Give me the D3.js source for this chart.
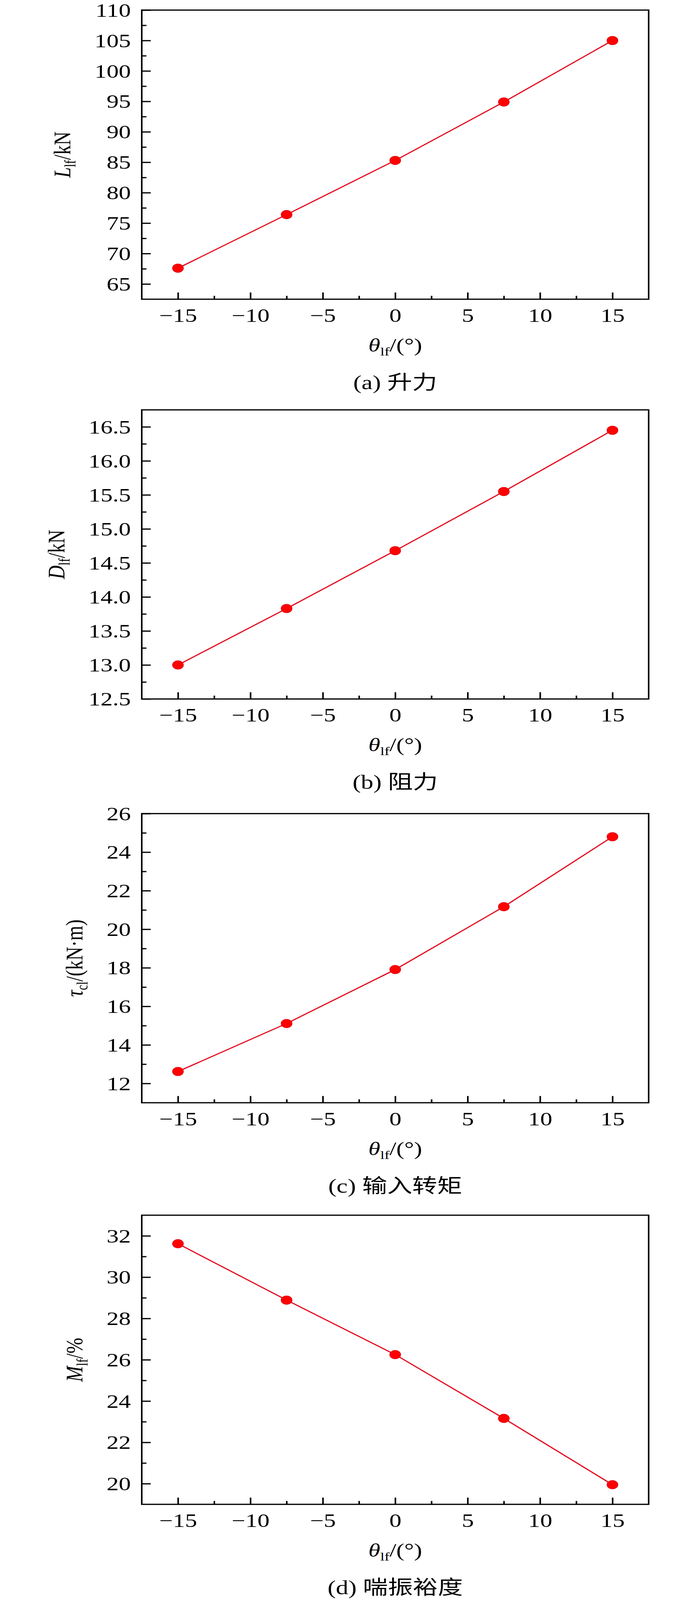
<!DOCTYPE html>
<html>
<head>
<meta charset="utf-8">
<script src="https://cdn.jsdelivr.net/npm/d3@7"></script>
<style>
  html, body { margin: 0; padding: 0; background: #fff; overflow: hidden; }
  #chart svg { display: block; }
  svg text { font-family: "Liberation Serif", "Times New Roman", "Noto Sans CJK SC", serif; fill: #000; }
</style>
</head>
<body>
<div id="chart"></div>
<script>
// angle of the leading-edge flap, shared by all four plots
const angles = [-15, -7.5, 0, 7.5, 15];

// values
const lift   = [67.6, 76.4, 85.3, 94.9, 105.0];
const drag   = [13.00, 13.83, 14.68, 15.55, 16.45];
const torque = [12.62, 15.11, 17.91, 21.17, 24.80];
const surge  = [31.62, 28.89, 26.25, 23.16, 19.95];

// tick labels
const xTicks = [-15, -10, -5, 0, 5, 10, 15];
const xMinor = [-12.5, -7.5, -2.5, 2.5, 7.5, 12.5];
const liftTicks   = [65, 70, 75, 80, 85, 90, 95, 100, 105, 110];
const dragTicks   = [12.5, 13.0, 13.5, 14.0, 14.5, 15.0, 15.5, 16.0, 16.5];
const torqueTicks = [12, 14, 16, 18, 20, 22, 24, 26];
const surgeTicks  = [20, 22, 24, 26, 28, 30, 32];

// captions and axis titles
const captions = ["(a) 升力", "(b) 阻力", "(c) 输入转矩", "(d) 喘振裕度"];
const yTitles = [
  {sym: "L", sub: "lf", unit: "/kN"},
  {sym: "D", sub: "lf", unit: "/kN"},
  {sym: "τ", sub: "cl", unit: "/(kN·m)"},
  {sym: "M", sub: "lf", unit: "/%"}
];

const W = 1772, H = 5235;
const left = 363, right = 1661, plotH = 946;
const tops = [33, 1341, 2662, 3976];
const FS = 62;

const panels = [
  {values: lift,   ticks: liftTicks,   domain: [62.5, 110], step: 5,   fmt: d3.format("d")},
  {values: drag,   ticks: dragTicks,   domain: [12.5, 16.75], step: 0.5, fmt: d3.format(".1f")},
  {values: torque, ticks: torqueTicks, domain: [11, 26],    step: 2,   fmt: d3.format("d")},
  {values: surge,  ticks: surgeTicks,  domain: [19, 33],    step: 2,   fmt: d3.format("d")}
];

// drawing is done in 1772x5235 units and stretched onto whatever window we get
const svg = d3.select("#chart").append("svg")
  .attr("width", window.innerWidth || W)
  .attr("height", window.innerHeight || H)
  .attr("viewBox", `0 0 ${W} ${H}`)
  .attr("preserveAspectRatio", "none");

svg.append("rect").attr("width", W).attr("height", H).attr("fill", "#fff");

const x = d3.scaleLinear().domain([-17.5, 17.5]).range([left, right]);

panels.forEach((p, k) => {
  const top = tops[k], bottom = top + plotH;
  const g = svg.append("g");
  const y = d3.scaleLinear().domain(p.domain).range([bottom, top]);

  // minor ticks halfway between the labelled ones
  const yMinor = p.ticks.map(t => t + p.step / 2)
    .filter(t => t < p.domain[1] - 1e-9);

  // x axis
  g.append("g").attr("transform", `translate(0,${bottom})`)
    .call(d3.axisBottom(x).tickValues(xMinor).tickSize(-11).tickFormat(""))
    .call(a => a.select(".domain").remove());
  g.append("g").attr("transform", `translate(0,${bottom})`)
    .call(d3.axisBottom(x).tickValues(xTicks).tickSize(-22).tickSizeOuter(0).tickPadding(30))
    .call(a => a.select(".domain").remove())
    .call(a => a.selectAll("text").attr("font-size", FS));

  // y axis
  g.append("g").attr("transform", `translate(${left},0)`)
    .call(d3.axisLeft(y).tickValues(yMinor).tickSize(-12).tickFormat(""))
    .call(a => a.select(".domain").remove());
  const yAx = g.append("g").attr("transform", `translate(${left},0)`)
    .call(d3.axisLeft(y).tickValues(p.ticks).tickFormat(p.fmt).tickSize(-23).tickSizeOuter(0).tickPadding(28))
    .call(a => a.select(".domain").remove())
    .call(a => a.selectAll("text").attr("font-size", FS).attr("dy", "0.34em"));

  g.selectAll(".tick line").attr("stroke", "#000").attr("stroke-width", 4);

  // frame
  g.append("rect")
    .attr("x", left).attr("y", top)
    .attr("width", right - left).attr("height", plotH)
    .attr("fill", "none").attr("stroke", "#000").attr("stroke-width", 4);

  // series
  const pts = angles.map((a, i) => [a, p.values[i]]);
  g.append("path")
    .datum(pts)
    .attr("fill", "none")
    .attr("stroke", "#e3001b")
    .attr("stroke-width", 3.5)
    .attr("d", d3.line().x(d => x(d[0])).y(d => y(d[1])));
  g.selectAll(".pt").data(pts).join("circle")
    .attr("class", "pt")
    .attr("cx", d => x(d[0])).attr("cy", d => y(d[1]))
    .attr("r", 14)
    .attr("fill", "#ff0000")
    .attr("stroke", "#d8000f").attr("stroke-width", 1.5);

  // y title sits a fixed gap left of the widest tick label
  let maxW = 0;
  yAx.selectAll("text").each(function() { maxW = Math.max(maxW, this.getComputedTextLength()); });
  const base = left - 28 - maxW - 62;
  const t = yTitles[k];
  const yt = g.append("text")
    .attr("transform", `translate(${base},${(top + bottom) / 2}) rotate(-90)`)
    .attr("text-anchor", "middle")
    .attr("font-size", FS);
  yt.append("tspan").attr("font-style", "italic").text(t.sym);
  yt.append("tspan").attr("font-size", 39).attr("dy", 13).text(t.sub);
  yt.append("tspan").attr("dy", -13).text(t.unit);

  // x title
  const xt = g.append("text")
    .attr("x", (left + right) / 2).attr("y", bottom + 171)
    .attr("text-anchor", "middle")
    .attr("font-size", FS);
  xt.append("tspan").attr("font-style", "italic").text("θ");
  xt.append("tspan").attr("font-size", 39).attr("dy", 13).text("lf");
  xt.append("tspan").attr("dy", -13).text("/(°)");

  // caption
  g.append("text")
    .attr("x", (left + right) / 2).attr("y", bottom + 294)
    .attr("text-anchor", "middle")
    .attr("font-size", 64)
    .text(captions[k]);
});
</script>
</body>
</html>
